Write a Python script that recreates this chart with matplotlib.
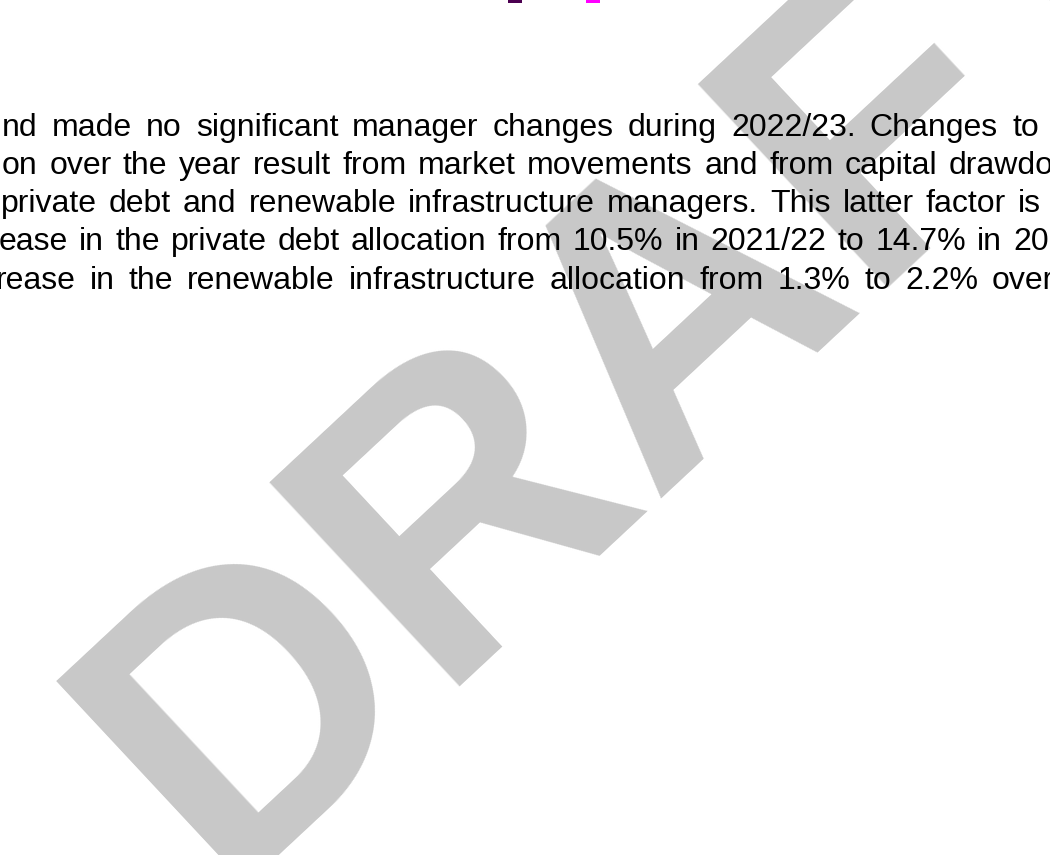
import matplotlib
matplotlib.use("Agg")
import matplotlib.pyplot as plt

W, H = 1050, 855

# paragraph lines as they appear (cut by the page crop)
lines = [
    "nd made no significant manager changes during 2022/23. Changes to",
    "on over the year result from market movements and from capital drawdowns",
    "private debt and renewable infrastructure managers. This latter factor is",
    "ease in the private debt allocation from 10.5% in 2021/22 to 14.7% in 2022/23",
    "rease in the renewable infrastructure allocation from 1.3% to 2.2% over",
]
first_x = [2, 2, 1, -1, -4]
last_x = [1012, 949, 1018, 1013, 992]
baselines = [136, 174, 212, 250, 289]

# swatches left at the top edge from the chart above
swatch_x = [515, 593]
swatch_colors = ["#4b0050", "#ff00ff"]

font_px = 32
fs = font_px * 72 / 100
family = ["Liberation Sans", "DejaVu Sans"]

fig = plt.figure(figsize=(10.5, 8.55), dpi=100)
ax = fig.add_axes([0, 0, 1, 1])
ax.set_xlim(0, W)
ax.set_ylim(H, 0)
ax.axis("off")

# watermark
ax.text(650, 340, "DRAFT", fontsize=405 * 0.72, family=family, fontweight="bold",
        color="#c8c8c8", rotation=43, rotation_mode="anchor",
        ha="center", va="center", zorder=0)

ax.bar(swatch_x, 16, width=14.6, bottom=-12.5, color=swatch_colors, zorder=2)

renderer = fig.canvas.get_renderer()
for text, x0, x1, yb in zip(lines, first_x, last_x, baselines):
    words = text.split()
    widths = []
    for w in words:
        t = ax.text(0, 0, w, fontsize=fs, family=family)
        widths.append(t.get_window_extent(renderer).width)
        t.remove()
    gap = (x1 - x0 - sum(widths[:-1])) / (len(words) - 1)
    x = x0
    for w, wd in zip(words, widths):
        ax.text(x, yb, w, fontsize=fs, family=family, color="black",
                ha="left", va="baseline", zorder=3)
        x += wd + gap

fig.savefig("out.png", dpi=100)
